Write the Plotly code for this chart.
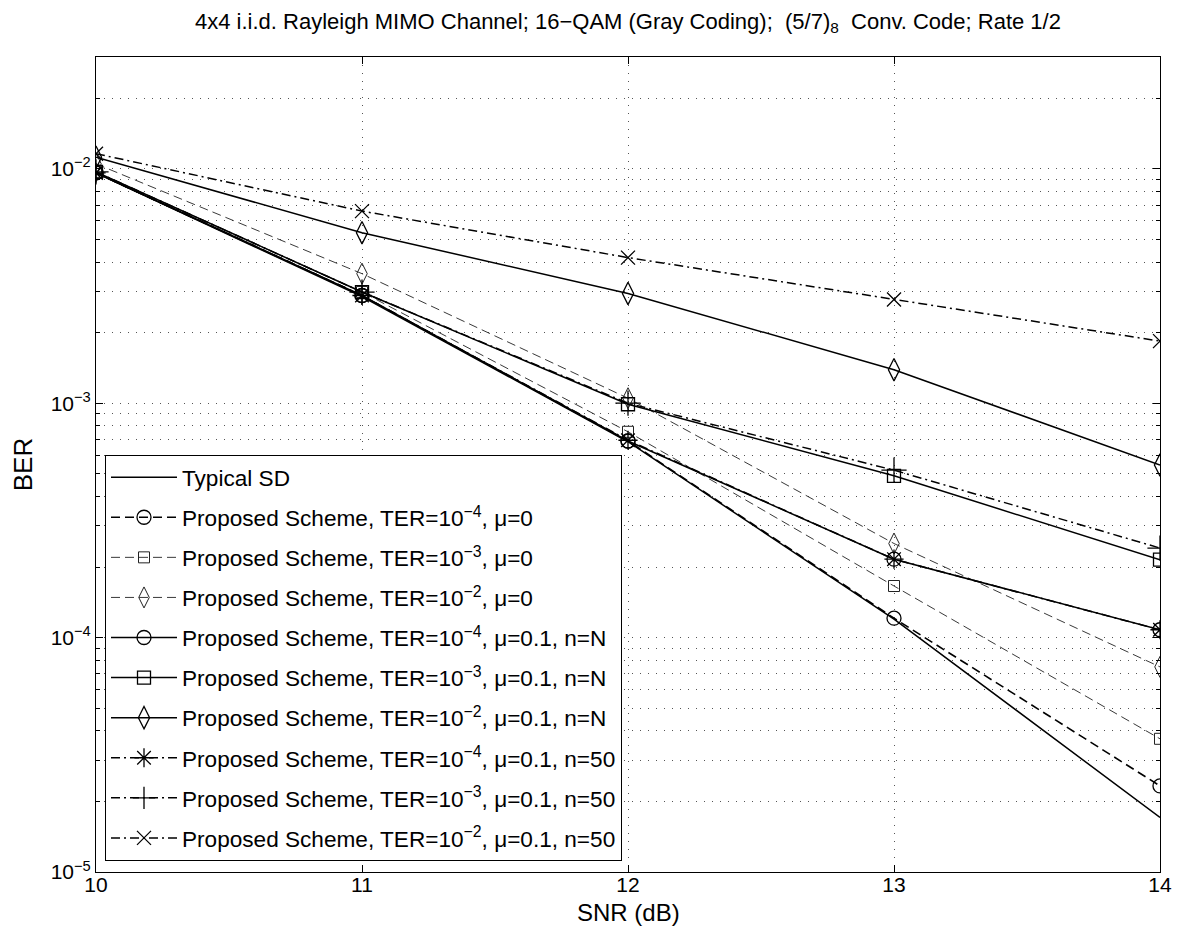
import plotly.graph_objects as go

snr = [10, 11, 12, 13, 14]

typical_sd = [9.6e-3, 2.85e-3, 6.85e-4, 1.2e-4, 1.71e-5]
ter4_mu0 = [9.6e-3, 2.88e-3, 6.9e-4, 1.21e-4, 2.33e-5]
ter3_mu0 = [9.7e-3, 2.98e-3, 7.55e-4, 1.66e-4, 3.7e-5]
ter2_mu0 = [1.05e-2, 3.57e-3, 1.05e-3, 2.52e-4, 7.5e-5]
ter4_nN = [9.6e-3, 2.88e-3, 6.9e-4, 2.16e-4, 1.08e-4]
ter3_nN = [9.7e-3, 2.98e-3, 9.9e-4, 4.9e-4, 2.15e-4]
ter2_nN = [1.12e-2, 5.34e-3, 2.94e-3, 1.39e-3, 5.45e-4]
ter4_n50 = [9.6e-3, 2.88e-3, 6.95e-4, 2.16e-4, 1.08e-4]
ter3_n50 = [9.7e-3, 2.98e-3, 1.0e-3, 5.18e-4, 2.41e-4]
ter2_n50 = [1.16e-2, 6.6e-3, 4.18e-3, 2.77e-3, 1.84e-3]

names = [
    "Typical SD",
    "Proposed Scheme, TER=10<sup>−4</sup>, μ=0",
    "Proposed Scheme, TER=10<sup>−3</sup>, μ=0",
    "Proposed Scheme, TER=10<sup>−2</sup>, μ=0",
    "Proposed Scheme, TER=10<sup>−4</sup>, μ=0.1, n=N",
    "Proposed Scheme, TER=10<sup>−3</sup>, μ=0.1, n=N",
    "Proposed Scheme, TER=10<sup>−2</sup>, μ=0.1, n=N",
    "Proposed Scheme, TER=10<sup>−4</sup>, μ=0.1, n=50",
    "Proposed Scheme, TER=10<sup>−3</sup>, μ=0.1, n=50",
    "Proposed Scheme, TER=10<sup>−2</sup>, μ=0.1, n=50",
]
series = [typical_sd, ter4_mu0, ter3_mu0, ter2_mu0, ter4_nN, ter3_nN, ter2_nN,
          ter4_n50, ter3_n50, ter2_n50]

styles = [
    dict(dash="solid", width=1.5, color="black", symbol=None, size=0),
    dict(dash="9px,5px", width=1.6, color="black", symbol="circle-open", size=14),
    dict(dash="9px,5px", width=0.9, color="#222222", symbol="square-open", size=11),
    dict(dash="9px,5px", width=0.9, color="#222222", symbol="diamond-tall-open", size=15),
    dict(dash="solid", width=1.5, color="black", symbol="circle-open", size=14),
    dict(dash="solid", width=1.5, color="black", symbol="square-open", size=13),
    dict(dash="solid", width=1.5, color="black", symbol="diamond-tall-open", size=16),
    dict(dash="9px,4px,2px,4px", width=1.5, color="black", symbol="asterisk-open", size=16),
    dict(dash="9px,4px,2px,4px", width=1.5, color="black", symbol="cross-thin-open", size=18),
    dict(dash="9px,4px,2px,4px", width=1.5, color="black", symbol="x-thin-open", size=14),
]

fig = go.Figure()
for i, (nm, ys, st) in enumerate(zip(names, series, styles)):
    if st["symbol"] is None:
        mode = "lines"
        marker = None
    else:
        mode = "lines+markers"
        marker = dict(symbol=st["symbol"], size=st["size"], color=st["color"],
                      line=dict(color=st["color"], width=1.3 if st["width"] > 1 else 1))
    fig.add_trace(go.Scatter(
        x=snr, y=ys, name=nm, mode=mode, legendgroup=f"g{i}",
        line=dict(color=st["color"], width=st["width"], dash=st["dash"]),
        marker=marker,
    ))

minor_vals = [m * 10 ** e for e in range(-5, -1) for m in range(2, 10) if m * 10 ** e < 0.031]
font = "Liberation Sans, Arial, Helvetica, sans-serif"

W, H = 1171, 921
off = 8
L, R, T, B = 96, 1160, 57, 872
grid = dict(showgrid=True, gridcolor="#555555", gridwidth=1, griddash="1px,7px")

fig.update_layout(
    width=W, height=H,
    margin=dict(l=L - off, r=W + off - R, t=T - off, b=H + off - B, autoexpand=False),
    paper_bgcolor="white", plot_bgcolor="white",
    font=dict(family=font, size=20, color="black"),
    title=dict(
        text="4x4 i.i.d. Rayleigh MIMO Channel; 16−QAM (Gray Coding);  (5/7)<sub>8</sub>  Conv. Code; Rate 1/2",
        x=((L + R) / 2 - off) / W, xanchor="center", y=1 - (21 - off) / H, yanchor="middle",
        font=dict(size=22),
    ),
    xaxis=dict(
        range=[10, 14], tickvals=snr, ticktext=[str(v) for v in snr],
        showline=True, linecolor="black", linewidth=1, mirror="ticks",
        ticks="inside", ticklen=7, tickcolor="black", ticklabelstandoff=-6,
        zeroline=False, automargin=False,
        tickfont=dict(size=21),
        **grid,
    ),
    yaxis=dict(
        type="log", range=[-5, 1.477 - 3],
        tickvals=[1e-5, 1e-4, 1e-3, 1e-2],
        ticktext=["10<sup>−5</sup>", "10<sup>−4</sup>", "10<sup>−3</sup>", "10<sup>−2</sup>"],
        showline=True, linecolor="black", linewidth=1, mirror="ticks",
        ticks="inside", ticklen=7, tickcolor="black",
        minor=dict(tickvals=minor_vals, ticks="inside", ticklen=4, tickcolor="black", **grid),
        zeroline=False, automargin=False,
        title=dict(text="BER", font=dict(size=26), standoff=19),
        tickfont=dict(size=21),
        **grid,
    ),
    legend=dict(
        x=(105 - L) / (R - L), y=(B - 455) / (B - T), xanchor="left", yanchor="top",
        bgcolor="white", bordercolor="black", borderwidth=1,
        font=dict(size=22.6), tracegroupgap=7.7, itemwidth=66,
    ),
    annotations=[dict(
        text="SNR (dB)", xref="paper", yref="paper",
        x=0.5, y=(B - 912) / (B - T), xanchor="center", yanchor="middle",
        showarrow=False, font=dict(size=24),
    )],
)

fig.write_html("out.html")
